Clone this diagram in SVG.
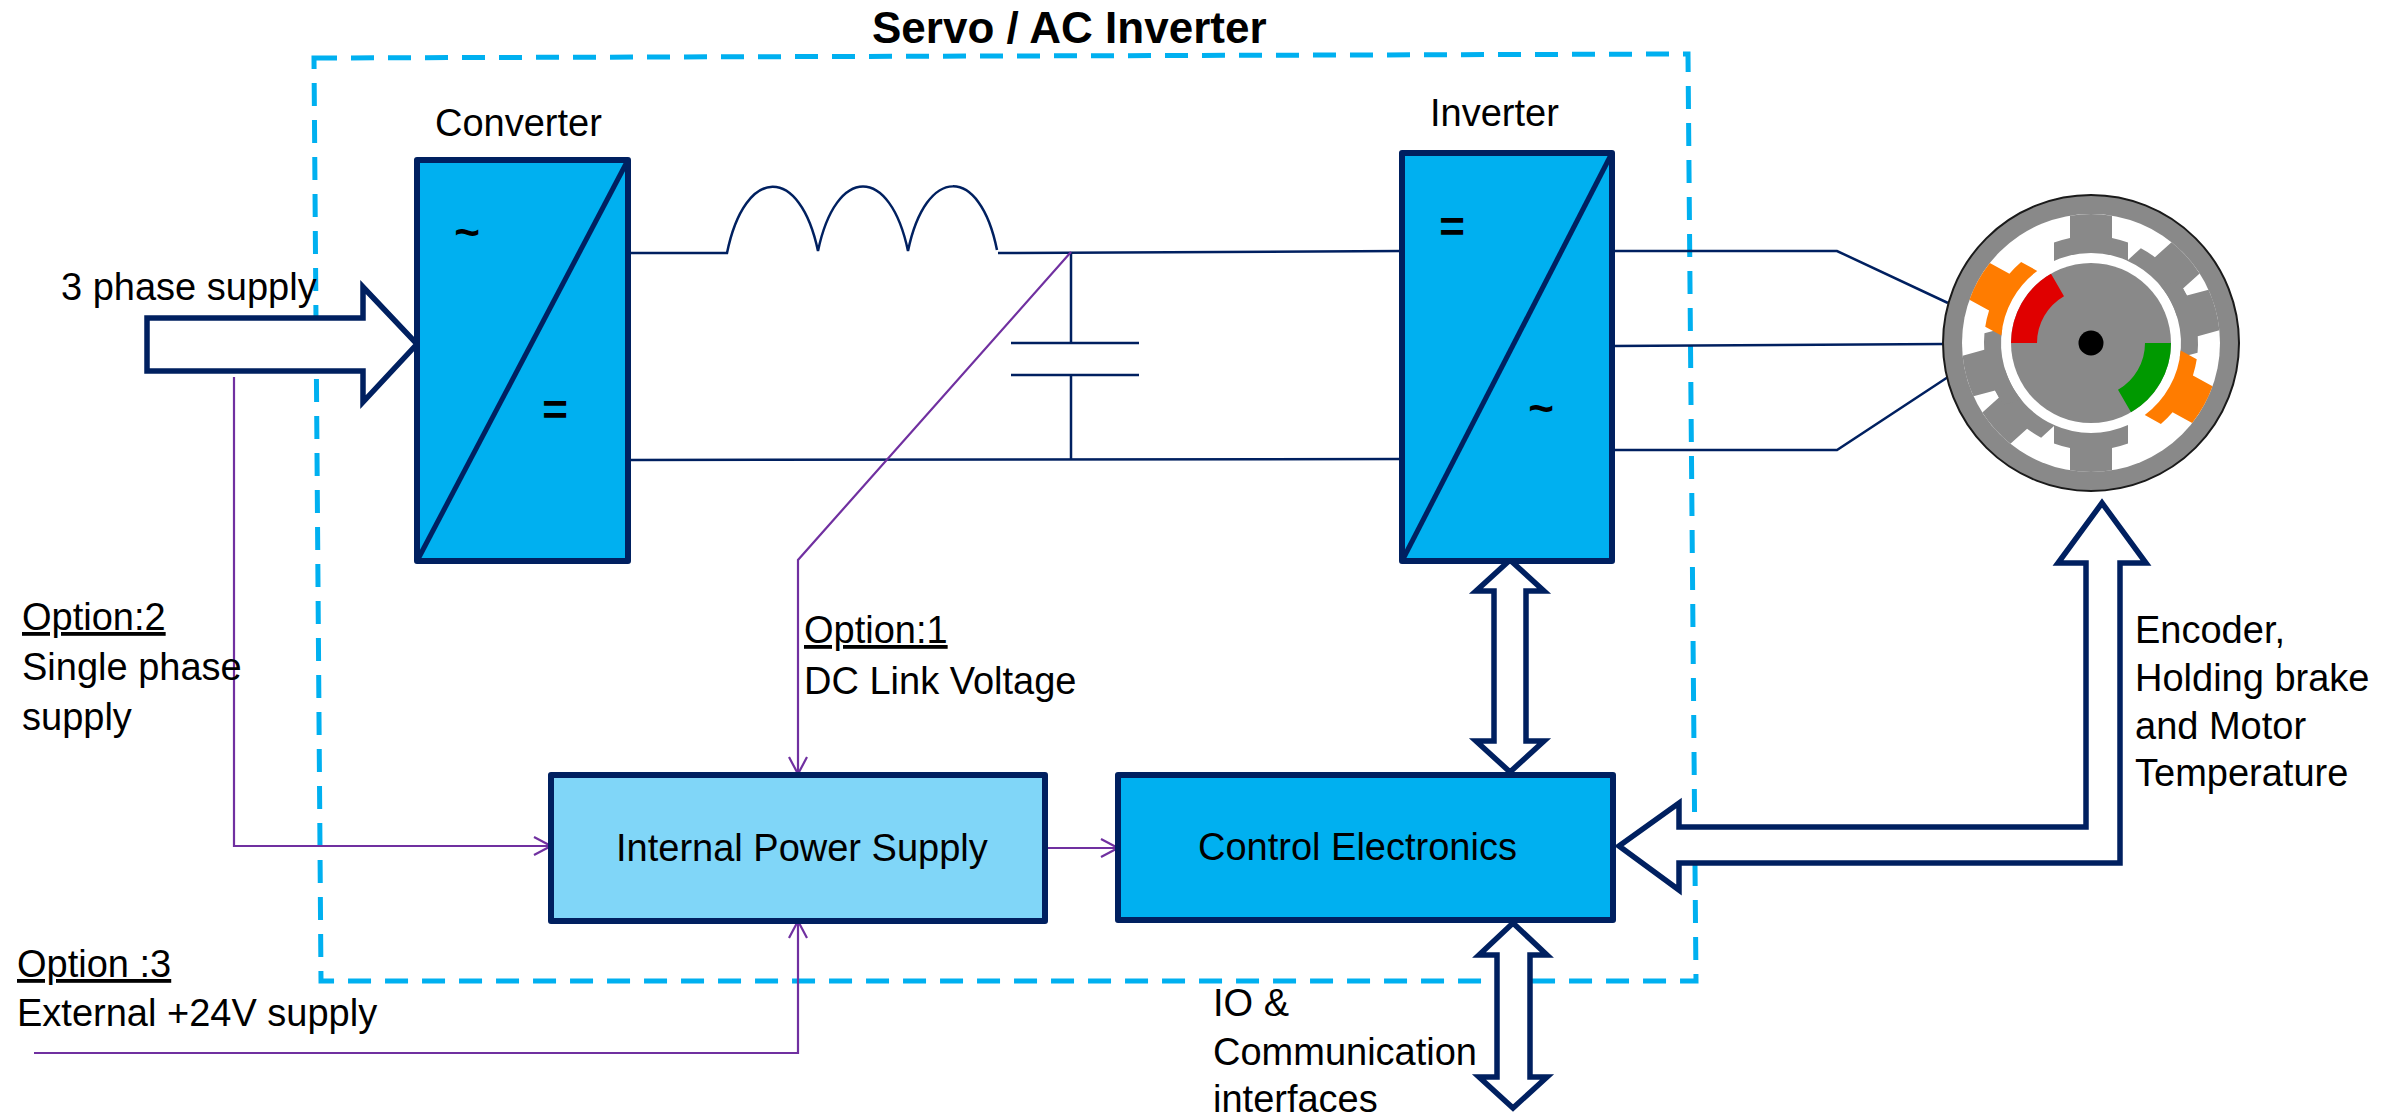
<svg xmlns="http://www.w3.org/2000/svg" width="2389" height="1117" viewBox="0 0 2389 1117">
  <style>
    text { font-family: "Liberation Sans", Arial, sans-serif; font-size: 38px; fill: #000; }
    .title { font-weight: bold; font-size: 44px; }
    .sym { font-weight: bold; font-size: 44px; text-anchor: middle; }
    .ul { text-decoration: underline; }
    .block { fill: #00B0F0; stroke: #002060; stroke-width: 6; stroke-linejoin: round; }
    .block-light { fill: #80D6F8; stroke: #002060; stroke-width: 6; stroke-linejoin: round; }
    .diag { fill: none; stroke: #002060; stroke-width: 5; }
    .wire { fill: none; stroke: #002060; stroke-width: 2.5; }
    .aux { fill: none; stroke: #7030A0; stroke-width: 2.2; }
    .fat { fill: #fff; stroke: #002060; stroke-width: 5.5; stroke-linejoin: miter; }
    .frame { fill: none; stroke: #00B0F0; stroke-width: 5; stroke-dasharray: 23 14; }
  </style>
  <defs>
    <marker id="open" viewBox="0 0 20 20" refX="19" refY="10" markerWidth="20" markerHeight="20" markerUnits="userSpaceOnUse" orient="auto">
      <path d="M2,1 L19,10 L2,19" fill="none" stroke="#7030A0" stroke-width="2.2"/>
    </marker>
    <!-- stator tooth, pointing up from the motor axis -->
    <path id="tooth" d="M-37,-82 A90,90 0 0 1 37,-82 L37,-100.4 A107,107 0 0 0 21,-104.9 L21,-127.3 A129,129 0 0 0 -21,-127.3 L-21,-104.9 A107,107 0 0 0 -37,-100.4 Z"/>
  </defs>

  <rect width="2389" height="1117" fill="#fff"/>

  <!-- drive enclosure -->
  <g id="enclosure">
    <path class="frame" d="M314,58 L1688,54 L1696,981 L321,981 Z"/>
    <text class="title" x="872" y="43">Servo / AC Inverter</text>
  </g>

  <g id="connectors">
    <!-- DC link -->
    <path class="wire" d="M628,253 L727,253 C745,165 800,165 818,251 C836,165 890,165 908,251 C926,165 980,165 997,250"/>
    <path class="wire" d="M998,253 L1402,251"/>
    <path class="wire" d="M628,460 L1402,459"/>
    <path class="wire" d="M1071,252 L1071,343 M1011,343 L1139,343 M1011,375 L1139,375 M1071,375 L1071,459"/>
    <!-- motor phases -->
    <path class="wire" d="M1612,251 L1837,251 L1948,303"/>
    <path class="wire" d="M1612,346 L1945,344"/>
    <path class="wire" d="M1612,450 L1837,450 L1948,377"/>
    <!-- auxiliary supply options -->
    <path class="aux" d="M1071,252 L798,560 L798,774" marker-end="url(#open)"/>
    <path class="aux" d="M234,377 L234,846 L551,846" marker-end="url(#open)"/>
    <path class="aux" d="M34,1053 L798,1053 L798,921" marker-end="url(#open)"/>
    <path class="aux" d="M1045,848 L1118,848" marker-end="url(#open)"/>
    <!-- power and signal arrows -->
    <path class="fat" d="M147,318 L363,318 L363,287 L417,344 L363,402 L363,371 L147,371 Z"/>
    <path class="fat" d="M1510,560 L1544,591 L1526,591 L1526,741 L1544,741 L1510,772 L1476,741 L1494,741 L1494,591 L1476,591 Z"/>
    <path class="fat" d="M1513,923 L1547,955 L1530,955 L1530,1077 L1547,1077 L1513,1108 L1479,1077 L1497,1077 L1497,955 L1479,955 Z"/>
    <path class="fat" d="M1619,846 L1679,803 L1679,827 L2086,827 L2086,563 L2058,563 L2102,503 L2146,563 L2120,563 L2120,863 L1679,863 L1679,890 Z"/>
  </g>

  <g id="converter">
    <text x="435" y="136">Converter</text>
    <rect class="block" x="417" y="160" width="211" height="401"/>
    <path class="diag" d="M417,561 L628,160"/>
    <text class="sym" x="467" y="247">~</text>
    <text class="sym" x="555" y="425">=</text>
  </g>

  <g id="inverter">
    <text x="1430" y="126">Inverter</text>
    <rect class="block" x="1402" y="153" width="210" height="408"/>
    <path class="diag" d="M1402,561 L1612,153"/>
    <text class="sym" x="1452" y="242">=</text>
    <text class="sym" x="1541" y="423">~</text>
  </g>

  <g id="internal-power-supply">
    <rect class="block-light" x="551" y="775" width="494" height="146"/>
    <text x="616" y="861">Internal Power Supply</text>
  </g>

  <g id="control-electronics">
    <rect class="block" x="1118" y="775" width="495" height="145"/>
    <text x="1198" y="860">Control Electronics</text>
  </g>

  <g id="motor">
    <circle cx="2091" cy="343" r="148" fill="#898989" stroke="#1a1a1a" stroke-width="2"/>
    <circle cx="2091" cy="343" r="129" fill="#fff"/>
    <g transform="translate(2091,343)" fill="#898989">
      <use href="#tooth"/>
      <use href="#tooth" transform="rotate(48)"/>
      <use href="#tooth" transform="rotate(75)"/>
      <use href="#tooth" transform="rotate(180)"/>
      <use href="#tooth" transform="rotate(228)"/>
      <use href="#tooth" transform="rotate(255)"/>
      <use href="#tooth" transform="rotate(119)" fill="#FF7C00"/>
      <use href="#tooth" transform="rotate(-61)" fill="#FF7C00"/>
    </g>
    <circle cx="2091" cy="343" r="80" fill="#898989"/>
    <path d="M2011,343 A80,80 0 0 1 2051,273.7 L2064,296.2 A54,54 0 0 0 2037,343 Z" fill="#E00000"/>
    <path d="M2171,343 A80,80 0 0 1 2131,412.3 L2118,389.8 A54,54 0 0 0 2145,343 Z" fill="#009900"/>
    <circle cx="2091" cy="343" r="12.5" fill="#000"/>
  </g>

  <g id="labels">
    <text x="61" y="300">3 phase supply</text>
    <text class="ul" x="22" y="630">Option:2</text>
    <text x="22" y="680">Single phase</text>
    <text x="22" y="730">supply</text>
    <text class="ul" x="804" y="643">Option:1</text>
    <text x="804" y="694">DC Link Voltage</text>
    <text class="ul" x="17" y="977">Option :3</text>
    <text x="17" y="1026">External +24V supply</text>
    <text x="1213" y="1016">IO &amp;</text>
    <text x="1213" y="1065">Communication</text>
    <text x="1213" y="1112">interfaces</text>
    <text x="2135" y="643">Encoder,</text>
    <text x="2135" y="691">Holding brake</text>
    <text x="2135" y="739">and Motor</text>
    <text x="2135" y="786">Temperature</text>
  </g>
</svg>
